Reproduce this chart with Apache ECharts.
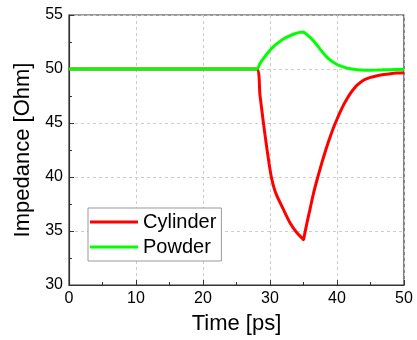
<!DOCTYPE html>
<html>
<head>
<meta charset="utf-8">
<script src="https://cdn.jsdelivr.net/npm/echarts@6/dist/echarts.min.js"></script>
<style>html,body{margin:0;padding:0;background:#fff;}#c{width:417px;height:340px;}</style>
</head>
<body>
<div id="c"></div>
<script>
const xTicks = [0, 10, 20, 30, 40, 50];
const yTicks = [30, 35, 40, 45, 50, 55];

const cylinderTime = [0, 28, 28.5, 29, 29.5, 29.9, 30.2, 30.6, 31, 32, 33, 34, 34.85, 35, 35.12, 35.5, 36, 36.5, 37, 37.5, 38, 38.5, 39, 39.5, 40, 40.5, 41, 41.5, 42, 42.5, 43, 44, 45, 46, 47, 48, 49, 50];
const cylinderValues = [50, 50, 47.6, 45.1, 42.8, 41.1, 40.0, 39.0, 38.3, 37.0, 35.75, 34.85, 34.3, 34.2, 34.55, 35.7, 37.1, 38.5, 39.7, 40.8, 41.85, 42.85, 43.75, 44.6, 45.35, 46.05, 46.7, 47.25, 47.75, 48.15, 48.5, 48.98, 49.22, 49.38, 49.5, 49.57, 49.62, 49.66];

const powderTime = [0, 28, 28.5, 29, 29.5, 30, 30.5, 31, 31.5, 32, 32.5, 33, 33.5, 34, 34.5, 35, 35.2, 35.5, 36, 36.5, 37, 37.5, 38, 38.5, 39, 39.5, 40, 40.5, 41, 41.5, 42, 42.5, 43, 44, 45, 46, 47, 48, 49, 50];
const powderValues = [50, 50, 50.5, 50.95, 51.37, 51.74, 52.05, 52.32, 52.56, 52.77, 52.95, 53.1, 53.22, 53.32, 53.39, 53.43, 53.33, 53.18, 52.93, 52.6, 52.22, 51.82, 51.44, 51.1, 50.82, 50.6, 50.42, 50.28, 50.17, 50.08, 50.02, 49.97, 49.93, 49.89, 49.89, 49.9, 49.92, 49.94, 49.96, 49.97];

const zip = (a, b) => a.map((v, i) => [v, b[i]]);
const FONT = 'Liberation Sans, Arial, sans-serif';

const chart = echarts.init(document.getElementById('c'), null, {renderer: 'canvas'});
chart.setOption({
  animation: false,
  backgroundColor: '#fff',
  grid: {left: 69, right: 13, top: 15, bottom: 55, show: true, borderColor: '#333', borderWidth: 1.2, backgroundColor: 'transparent'},
  legend: {
    orient: 'vertical', left: 88, top: 208,
    padding: [4, 5, 4, 2], itemGap: 5,
    itemWidth: 48, itemHeight: 3, icon: 'rect',
    backgroundColor: '#fff', borderColor: '#999', borderWidth: 1, borderRadius: 0,
    textStyle: {fontFamily: FONT, fontSize: 20, color: '#000'},
    data: ['Cylinder', 'Powder']
  },
  xAxis: {
    type: 'value', min: xTicks[0], max: xTicks[xTicks.length - 1], interval: 10,
    name: 'Time [ps]', nameLocation: 'middle', nameGap: 28,
    nameTextStyle: {fontFamily: FONT, fontSize: 22, color: '#000'},
    axisLine: {show: true, onZero: false, lineStyle: {color: '#333', width: 1.2}},
    axisTick: {show: true, inside: true, length: 5, lineStyle: {color: '#333'}},
    minorTick: {show: true, splitNumber: 2, length: 3, lineStyle: {color: '#333'}},
    axisLabel: {fontFamily: FONT, fontSize: 16, color: '#000', margin: 6},
    splitLine: {show: true, lineStyle: {color: '#ccc', type: [3, 3], width: 1}}
  },
  yAxis: {
    type: 'value', min: yTicks[0], max: yTicks[yTicks.length - 1], interval: 5,
    name: 'Impedance [Ohm]', nameLocation: 'middle', nameGap: 28,
    nameTextStyle: {fontFamily: FONT, fontSize: 22, color: '#000'},
    axisLine: {show: true, onZero: false, lineStyle: {color: '#333', width: 1.2}},
    axisTick: {show: true, inside: true, length: 5, lineStyle: {color: '#333'}},
    minorTick: {show: true, splitNumber: 2, length: 3, lineStyle: {color: '#333'}},
    axisLabel: {fontFamily: FONT, fontSize: 16, color: '#000', margin: 6},
    splitLine: {show: true, lineStyle: {color: '#ccc', type: [3, 3], width: 1}}
  },
  series: [
    {name: 'Cylinder', type: 'line', data: zip(cylinderTime, cylinderValues), symbol: 'none', smooth: 0.25,
     lineStyle: {color: '#ff0000', width: 3}, itemStyle: {color: '#ff0000'}, z: 3},
    {name: 'Powder', type: 'line', data: zip(powderTime, powderValues), symbol: 'none', smooth: 0.25,
     lineStyle: {color: '#00ff00', width: 3}, itemStyle: {color: '#00ff00'}, z: 4}
  ]
});
</script>
</body>
</html>
